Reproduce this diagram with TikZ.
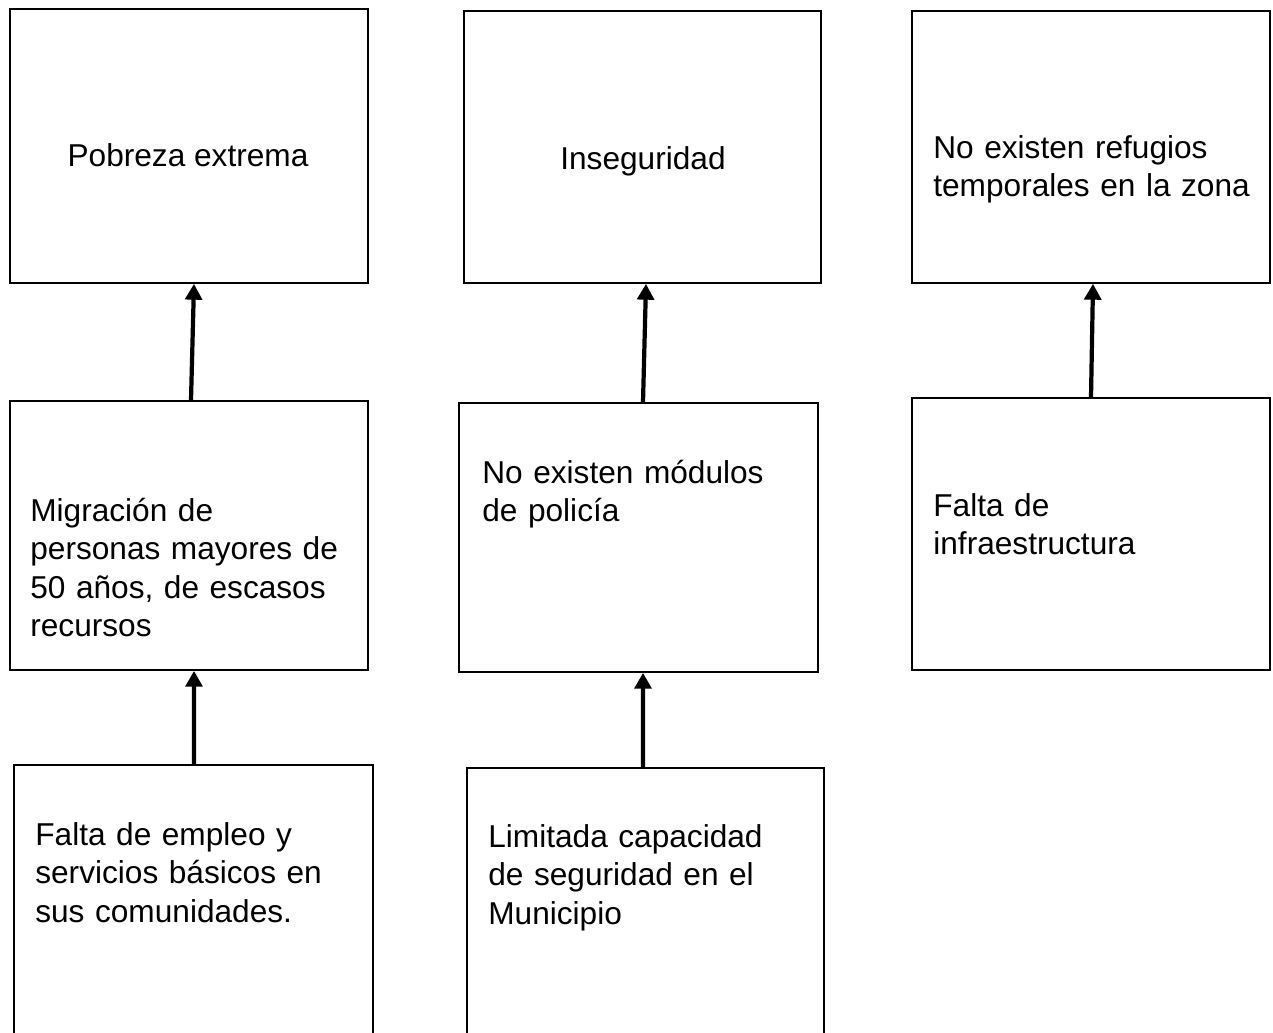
\documentclass[tikz,border=0pt]{standalone}
\usepackage{fontspec}
\setmainfont{Liberation Sans}
\usetikzlibrary{arrows.meta}
\tikzset{
  causebox/.style={draw, line width=1pt, inner sep=0pt},
  boxtext/.style={font=\fontsize{18}{22}\selectfont, inner sep=0pt, align=left, text width=7cm},
  cause/.style={line width=2.4pt, -{Triangle[width=9.5pt, length=9pt]}}
}
\begin{document}
\begin{tikzpicture}[x=0.02cm, y=-0.02cm]
    \clip (0,0) rectangle (1273,1032);

    % Draw the top row of boxes
    \node[causebox, minimum width=7.16cm, minimum height=5.48cm] (pobreza) at (189,146) {};
    \node[causebox, minimum width=7.14cm, minimum height=5.44cm] (inseg) at (642.5,147) {};
    \node[causebox, minimum width=7.16cm, minimum height=5.44cm] (refugios) at (1091,147) {};

    % Draw the middle row of boxes
    \node[causebox, minimum width=7.16cm, minimum height=5.38cm] (migracion) at (189,535.5) {};
    \node[causebox, minimum width=7.18cm, minimum height=5.38cm] (modulos) at (638.5,537.5) {};
    \node[causebox, minimum width=7.16cm, minimum height=5.44cm] (infra) at (1091,534) {};

    % Draw the bottom row of boxes (cut off by the page)
    \node[causebox, minimum width=7.18cm, minimum height=5.60cm] (empleo) at (193.5,905) {};
    \node[causebox, minimum width=7.14cm, minimum height=5.54cm] (capacidad) at (645.5,906.5) {};

    % Texts of the boxes
    \node[inner sep=0pt, font=\fontsize{18}{22}\selectfont, anchor=base] (tpobreza) at (188,166) {Pobreza extrema};
    \node[inner sep=0pt, font=\fontsize{18}{22}\selectfont, anchor=base] (tinseg) at (643,169) {Inseguridad};
    \node[boxtext, anchor=base west] (trefugios) at (933,158) {No existen refugios\\temporales en la zona};
    \node[boxtext, anchor=base west] (tmigracion) at (30,521) {Migración de\\personas mayores de\\50 años, de escasos\\recursos};
    \node[boxtext, anchor=base west] (tmodulos) at (482,483) {No existen módulos\\de policía};
    \node[boxtext, anchor=base west] (tinfra) at (933,516) {Falta de\\infraestructura};
    \node[boxtext, anchor=base west] (templeo) at (35,845) {Falta de empleo y\\servicios básicos en\\sus comunidades.};
    \node[boxtext, anchor=base west] (tcapacidad) at (488,847) {Limitada capacidad\\de seguridad en el\\Municipio};

    % Draw the arrows from causes to effects
    \draw[cause] ([xshift=0.04cm]migracion.north) -- ([xshift=0.1cm]pobreza.south);
    \draw[cause] ([xshift=0.09cm]modulos.north) -- ([xshift=0.07cm]inseg.south);
    \draw[cause] (infra.north) -- ([xshift=0.04cm]refugios.south);
    \draw[cause] ([xshift=0.01cm]empleo.north) -- ([xshift=0.1cm]migracion.south);
    \draw[cause] ([xshift=-0.05cm]capacidad.north) -- ([xshift=0.09cm]modulos.south);

\end{tikzpicture}
\end{document}
